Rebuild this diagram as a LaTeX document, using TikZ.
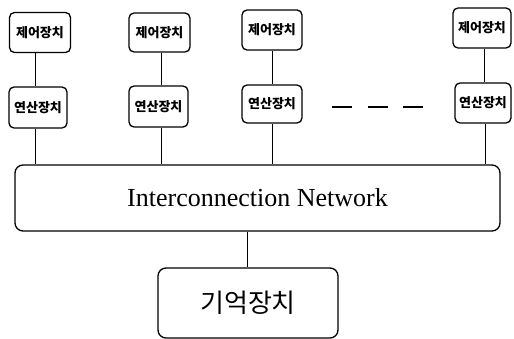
\documentclass[tikz,border=0pt]{standalone}
\usepackage{fontspec}
\setmainfont{Liberation Serif}
\newfontfamily\kr{Noto Sans CJK KR}
\begin{document}
\begin{tikzpicture}[x=1pt,y=-1pt,
  unitbox/.style={draw, line width=1.3pt, rounded corners=5pt, inner sep=0pt,
    font=\kr\bfseries\fontsize{13}{15}\selectfont},
  bigbox/.style={draw, line width=1.3pt, rounded corners=8pt, inner sep=0pt},
  wire/.style={line width=1pt}]
\useasboundingbox (0,0) rectangle (514,339);
% control units
\node[unitbox, minimum width=61pt, minimum height=40pt] (c1) at (40,32.5) {제어장치};
\node[unitbox, minimum width=61pt, minimum height=39pt] (c2) at (159.5,32.5) {제어장치};
\node[unitbox, minimum width=60pt, minimum height=40pt] (c3) at (272,30) {제어장치};
\node[unitbox, minimum width=58pt, minimum height=40pt] (c4) at (482,28) {제어장치};
% arithmetic units
\node[unitbox, minimum width=58pt, minimum height=41pt] (a1) at (38,107.5) {연산장치};
\node[unitbox, minimum width=59pt, minimum height=41pt] (a2) at (158.5,106.5) {연산장치};
\node[unitbox, minimum width=60pt, minimum height=38pt] (a3) at (272,104) {연산장치};
\node[unitbox, minimum width=56pt, minimum height=40pt] (a4) at (483,103) {연산장치};
% network
\node[bigbox, minimum width=485pt, minimum height=66pt,
  font=\fontsize{26}{30}\selectfont] (net) at (257.5,198) {Interconnection Network};
% memory
\node[bigbox, minimum width=180pt, minimum height=70pt,
  font=\kr\fontsize{26}{30}\selectfont] (mem) at (248,303) {기억장치};
% connectors
\draw[wire] (c1.south -| 35,0) -- (a1.north -| 35,0);
\draw[wire] (a1.south -| 35,0) -- (net.north -| 35,0);
\draw[wire] (c2.south -| 161,0) -- (a2.north -| 161,0);
\draw[wire] (a2.south -| 161,0) -- (net.north -| 161,0);
\draw[wire] (c3.south -| 272,0) -- (a3.north -| 272,0);
\draw[wire] (a3.south -| 272,0) -- (net.north -| 272,0);
\draw[wire] (c4.south -| 484,0) -- (a4.north -| 484,0);
\draw[wire] (a4.south -| 485,0) -- (net.north -| 485,0);
\draw[wire] (net.south -| 247,0) -- (mem.north -| 247,0);
% dashes
\coordinate (d1) at (332,107);
\coordinate (d2) at (423,107);
\draw[line width=2pt, dash pattern=on 20pt off 15.5pt] (d1) -- (d2);
\end{tikzpicture}
\end{document}
